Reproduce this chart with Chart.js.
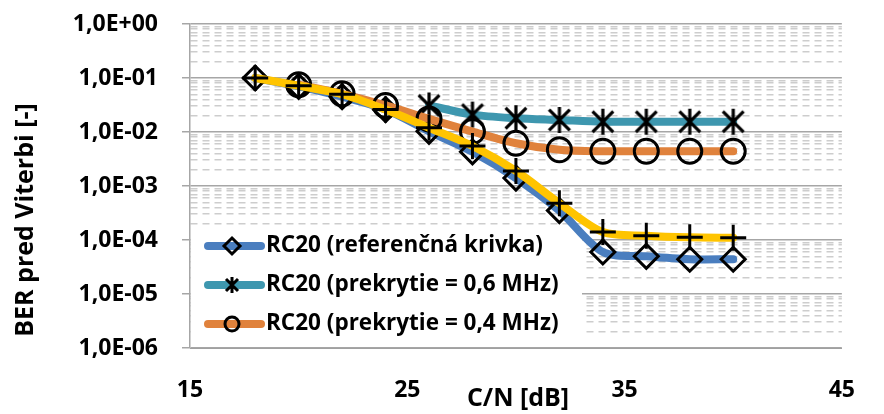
<!DOCTYPE html>
<html>
<head>
<meta charset="utf-8">
<script src="https://cdn.jsdelivr.net/npm/chart.js@4/dist/chart.umd.min.js"></script>
<style>
  html, body { margin: 0; padding: 0; background: #fff; }
</style>
</head>
<body>
<canvas id="berChart" width="884" height="414"></canvas>
<script>
// C/N [dB] values where BER was measured
const cnValues = [18, 20, 22, 24, 26, 28, 30, 32, 34, 36, 38, 40];

// BER before Viterbi
const berReference = [0.1, 0.07, 0.045, 0.026, 0.0103, 0.0043, 0.0014, 0.00035, 6.0e-5, 5.0e-5, 4.4e-5, 4.4e-5];
const berOverlap06 = [null, null, null, null, 0.031, 0.021, 0.018, 0.0167, 0.0155, 0.0155, 0.0155, 0.0155];
const berOverlap04 = [null, 0.075, 0.051, 0.031, 0.0175, 0.0102, 0.0062, 0.0047, 0.0044, 0.0044, 0.0044, 0.0044];
const berFourth    = [0.1, 0.072, 0.05, 0.026, 0.012, 0.0055, 0.0019, 0.00048, 0.00014, 0.00012, 0.000112, 0.00011];

const seriesLabels = [
  "RC20 (referenčná krivka)",
  "RC20 (prekrytie = 0,6 MHz)",
  "RC20 (prekrytie = 0,4 MHz)",
  "RC20"
];
const seriesColors = ["#4A7EBF", "#3E97AF", "#E0823C", "#FFC400"];

const xTicks = [15, 25, 35, 45];
const yMinExp = -6, yMaxExp = 0;

const FONT = "'Open Sans'";

// Excel style asterisk marker (X + vertical bar)
function makeAsterisk(size, lw) {
  const c = document.createElement("canvas");
  c.width = size; c.height = size;
  const g = c.getContext("2d");
  g.strokeStyle = "#000";
  g.lineWidth = lw;
  const m = size / 2, r = size / 2 - 1, d = r * 0.8;
  g.beginPath();
  g.moveTo(m, m - r); g.lineTo(m, m + r);
  g.moveTo(m - d, m - d); g.lineTo(m + d, m + d);
  g.moveTo(m + d, m - d); g.lineTo(m - d, m + d);
  g.stroke();
  return c;
}
const asteriskBig = makeAsterisk(28, 3.2);

function toPoints(arr) {
  return cnValues.map((x, i) => ({ x: x, y: arr[i] }));
}

function fmtExp(v) {
  const e = Math.round(Math.log10(v));
  const sign = e < 0 ? "-" : "+";
  return "1,0E" + sign + String(Math.abs(e)).padStart(2, "0");
}

const markerBase = { pointBorderColor: "#000", pointBackgroundColor: "rgba(0,0,0,0)", pointBorderWidth: 3 };

const LEGEND_BOX = { left: 191, top: 228, right: 582 };

// legend drawn inside the plot area like in the original
const legendPlugin = {
  id: "insideLegend",
  beforeDatasetsDraw(chart) {
    const ctx = chart.ctx;
    ctx.save();
    ctx.fillStyle = "#fff";
    ctx.fillRect(LEGEND_BOX.left, LEGEND_BOX.top, LEGEND_BOX.right - LEGEND_BOX.left, chart.chartArea.bottom - LEGEND_BOX.top - 1);
    ctx.restore();
  },
  afterDraw(chart) {
    const ctx = chart.ctx;
    ctx.save();

    const rows = [246, 285, 324];
    for (let i = 0; i < 3; i++) {
      const y = rows[i];
      ctx.strokeStyle = seriesColors[i];
      ctx.lineWidth = 8;
      ctx.lineCap = "round";
      ctx.beginPath();
      ctx.moveTo(208, y); ctx.lineTo(261, y);
      ctx.stroke();

      ctx.strokeStyle = "#000";
      ctx.lineWidth = 3;
      ctx.lineCap = "butt";
      ctx.beginPath();
      const cx = 232;
      if (i === 0) {
        ctx.moveTo(cx, y - 8); ctx.lineTo(cx + 8, y); ctx.lineTo(cx, y + 8); ctx.lineTo(cx - 8, y); ctx.closePath();
      } else if (i === 1) {
        ctx.moveTo(cx, y - 8); ctx.lineTo(cx, y + 8);
        ctx.moveTo(cx - 6, y - 6); ctx.lineTo(cx + 6, y + 6);
        ctx.moveTo(cx + 6, y - 6); ctx.lineTo(cx - 6, y + 6);
      } else {
        ctx.arc(cx, y, 7, 0, Math.PI * 2);
      }
      ctx.stroke();

      ctx.fillStyle = "#000";
      ctx.font = "bold 22.5px " + FONT;
      ctx.textBaseline = "middle";
      ctx.textAlign = "left";
      ctx.fillText(seriesLabels[i], 266, y);
    }

    // axis titles
    ctx.font = "bold 25px " + FONT;
    ctx.textAlign = "center";
    ctx.textBaseline = "middle";
    ctx.fillText("C/N [dB]", 518, 399);

    ctx.translate(26, 220);
    ctx.rotate(-Math.PI / 2);
    ctx.fillText("BER pred Viterbi [-]", 0, 0);
    ctx.restore();
  }
};

new Chart(document.getElementById("berChart"), {
  type: "line",
  data: {
    datasets: [
      Object.assign({
        label: seriesLabels[0], data: toPoints(berReference), borderColor: seriesColors[0],
        pointStyle: "rectRot", pointRadius: 12, order: 4
      }, markerBase),
      Object.assign({
        label: seriesLabels[1], data: toPoints(berOverlap06), borderColor: seriesColors[1],
        pointStyle: asteriskBig, pointRadius: 12, order: 3
      }, markerBase),
      Object.assign({
        label: seriesLabels[2], data: toPoints(berOverlap04), borderColor: seriesColors[2],
        pointStyle: "circle", pointRadius: 12, order: 2
      }, markerBase),
      Object.assign({
        label: seriesLabels[3], data: toPoints(berFourth), borderColor: seriesColors[3],
        pointStyle: "cross", pointRadius: 13, order: 1
      }, markerBase)
    ]
  },
  options: {
    responsive: false,
    animation: false,
    spanGaps: false,
    elements: {
      line: { borderWidth: 8, tension: 0.3, borderCapStyle: "round", fill: false }
    },
    layout: { padding: { top: 24, right: 18, bottom: 0, left: 0 } },
    plugins: {
      legend: { display: false },
      tooltip: { enabled: false }
    },
    scales: {
      x: {
        type: "linear",
        min: 15,
        max: 45,
        afterBuildTicks(scale) {
          scale.ticks = xTicks.map(v => ({ value: v }));
        },
        afterFit(scale) { scale.height = 66; },
        grid: { display: false, drawTicks: false },
        border: { display: true, color: "#A0A0A0", width: 1 },
        ticks: {
          padding: 29,
          color: "#000",
          font: { family: FONT, size: 23, weight: "bold" },
          maxRotation: 0
        }
      },
      y: {
        type: "logarithmic",
        min: Math.pow(10, yMinExp),
        max: Math.pow(10, yMaxExp),
        afterBuildTicks(scale) {
          const t = [];
          for (let e = yMinExp; e <= yMaxExp; e++) {
            for (let m = 1; m <= 9; m++) {
              if (e === yMaxExp && m > 1) break;
              t.push({ value: m * Math.pow(10, e), major: m === 1 });
            }
          }
          scale.ticks = t;
        },
        afterFit(scale) {
          scale.width = 190;
          scale.paddingTop = 0;
          scale.paddingBottom = 0;
        },
        grid: {
          color: c => (c.tick && c.tick.major) ? "#A6A6A6" : "#CDCDCD",
          lineWidth: 1.5,
          tickColor: c => (c.tick && c.tick.major) ? "#A6A6A6" : "rgba(0,0,0,0)",
          tickLength: 8
        },
        border: {
          display: true,
          color: "#A6A6A6",
          width: 1.5,
          dash: c => (c.tick && !c.tick.major) ? [7, 5] : []
        },
        ticks: {
          autoSkip: false,
          padding: 24,
          color: "#000",
          font: { family: FONT, size: 23, weight: "bold" },
          callback(v, i, ticks) {
            return ticks[i].major ? fmtExp(v) : "";
          }
        }
      }
    }
  },
  plugins: [legendPlugin]
});
</script>
</body>
</html>
